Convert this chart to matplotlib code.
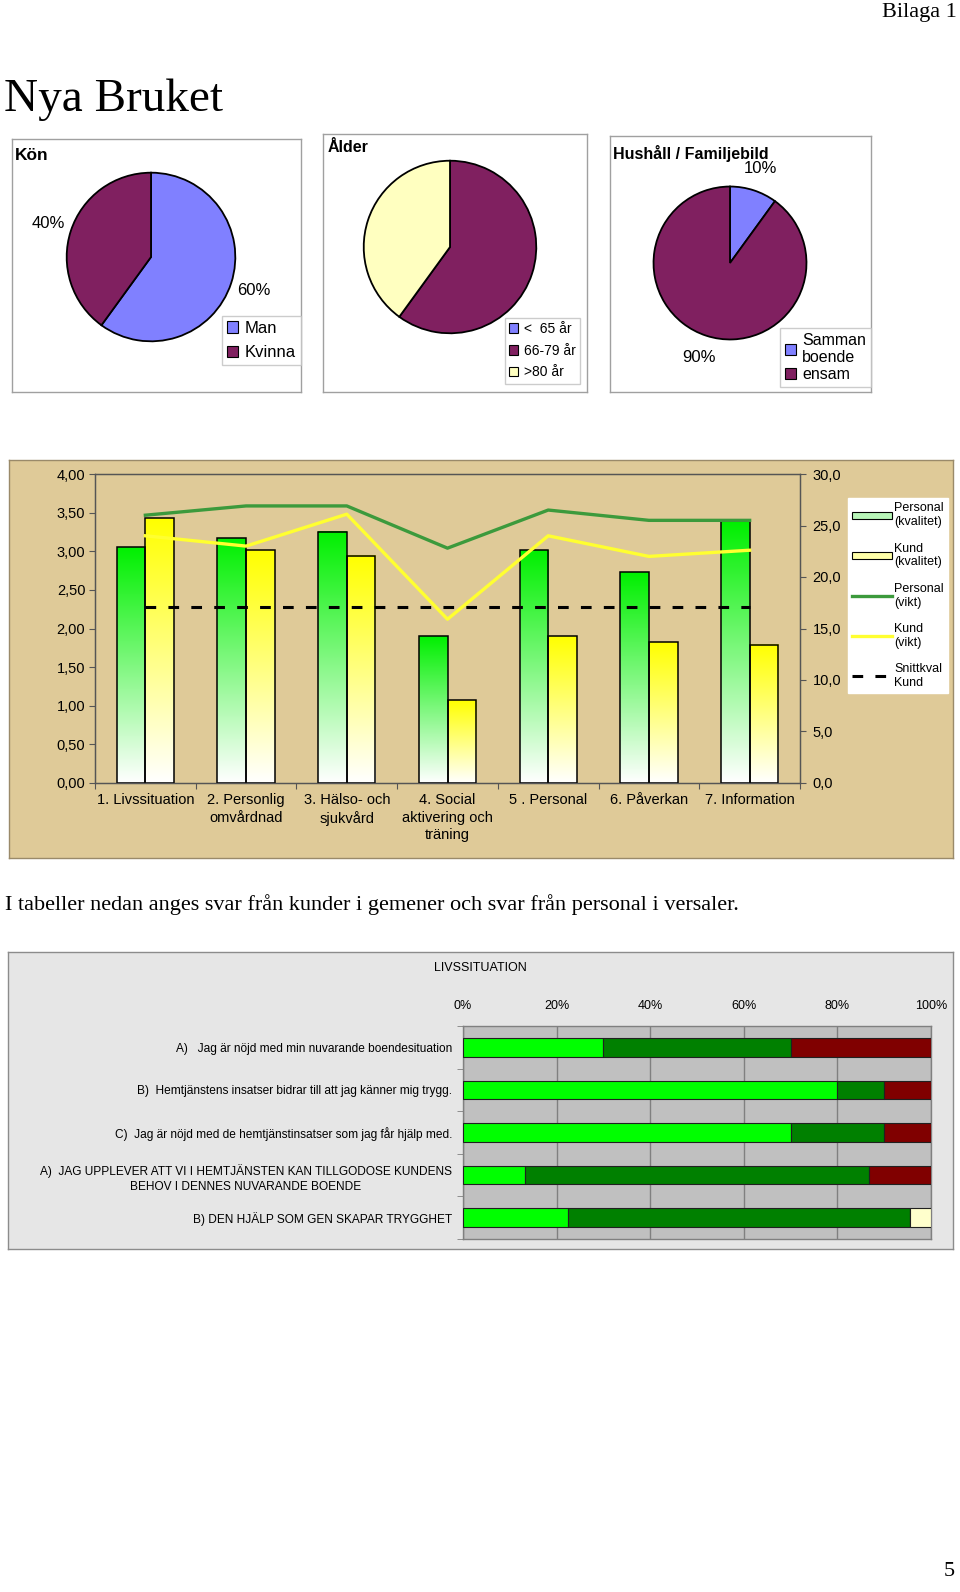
import numpy as np
import matplotlib
matplotlib.use("Agg")
import matplotlib.pyplot as plt
from matplotlib.patches import Patch
from matplotlib.lines import Line2D
from matplotlib.colors import LinearSegmentedColormap
from matplotlib.ticker import FixedLocator, FuncFormatter

plt.rcParams["font.family"] = ["Liberation Sans", "DejaVu Sans"]

# ---- data --------------------------------------------------------------
kon_labels = ["Man", "Kvinna"]
kon_values = [60, 40]

alder_labels = ["<  65 år", "66-79 år", ">80 år"]
alder_values = [0, 60, 40]

hushall_labels = ["Samman\nboende", "ensam"]
hushall_values = [10, 90]

omraden = ["1. Livssituation", "2. Personlig\nomvårdnad", "3. Hälso- och\nsjukvård",
           "4. Social\naktivering och\nträning", "5 . Personal", "6. Påverkan",
           "7. Information"]
personal_kvalitet = [3.05, 3.17, 3.25, 1.90, 3.01, 2.73, 3.39]
kund_kvalitet = [3.43, 3.01, 2.94, 1.07, 1.90, 1.82, 1.79]
personal_vikt = [26.0, 26.9, 26.9, 22.8, 26.5, 25.5, 25.5]
kund_vikt = [24.0, 23.0, 26.1, 15.9, 24.0, 22.0, 22.6]
snittkval_kund = float(np.mean(kund_kvalitet))

fragor = ["A)   Jag är nöjd med min nuvarande boendesituation",
          "B)  Hemtjänstens insatser bidrar till att jag känner mig trygg.",
          "C)  Jag är nöjd med de hemtjänstinsatser som jag får hjälp med.",
          "A)  JAG UPPLEVER ATT VI I HEMTJÄNSTEN KAN TILLGODOSE KUNDENS\nBEHOV I DENNES NUVARANDE BOENDE",
          "B) DEN HJÄLP SOM GEN SKAPAR TRYGGHET"]
svar_ljusgron = [30, 80, 70, 13.3, 22.5]
svar_morkgron = [40, 10, 20, 73.4, 73.0]
svar_rod = [30, 10, 10, 13.3, 0]
svar_gul = [0, 0, 0, 0, 4.5]

# ---- helpers -------------------------------------------------------------
W, H = 960, 1592
fig = plt.figure(figsize=(W / 100, H / 100), dpi=100)
fig.patch.set_facecolor("white")


def rect(x0, y0, x1, y1):
    return [x0 / W, 1 - y1 / H, (x1 - x0) / W, (y1 - y0) / H]


def ftext(x, y, s, **kw):
    return fig.text(x / W, 1 - y / H, s, **kw)


def panel(x0, y0, x1, y1, fc="white", ec="#a0a0a0"):
    a = fig.add_axes(rect(x0, y0, x1, y1))
    a.set_xticks([]); a.set_yticks([])
    a.set_facecolor(fc)
    for s in a.spines.values():
        s.set_color(ec); s.set_linewidth(1)
    return a


BLUE = "#8080FF"
PLUM = "#802060"
CREAM = "#FFFFC0"
SERIF = ["Liberation Serif", "DejaVu Serif"]

# ---- page text -----------------------------------------------------------
ftext(957, 13, "Bilaga 1", ha="right", va="center", fontsize=16, family=SERIF)
ftext(4, 100, "Nya Bruket", ha="left", va="center", fontsize=34, family=SERIF)
ftext(5, 905, "I tabeller nedan anges svar från kunder i gemener och svar från personal i versaler.",
      ha="left", va="center", fontsize=16, family=SERIF)
ftext(955, 1572, "5", ha="right", va="center", fontsize=16, family=SERIF)


# ---- pies ----------------------------------------------------------------
def pie_box(box, title, title_xy, tsize, center, r, values, colors, labels,
            leg_xy, leg_size, pct=None, spacing=0.55):
    panel(*box)
    ftext(title_xy[0], title_xy[1], title, ha="left", va="center",
          fontsize=tsize, weight="bold")
    cx, cy = center
    pa = fig.add_axes(rect(cx - r, cy - r, cx + r, cy + r))
    kw = {}
    if pct:
        kw = dict(autopct=lambda p: f"{p:.0f}%", pctdistance=pct,
                  textprops=dict(fontsize=12))
    pa.pie(values, colors=colors, startangle=90, counterclock=False,
           wedgeprops=dict(edgecolor="black", linewidth=1.3), **kw)
    pa.set_xlim(-1.02, 1.02); pa.set_ylim(-1.02, 1.02)
    pa.set_aspect("equal"); pa.axis("off")
    handles = [Patch(facecolor=c, edgecolor="black", linewidth=0.8) for c in colors]
    leg = pa.legend(handles, labels, loc="upper right",
                    bbox_to_anchor=(leg_xy[0] / W, 1 - leg_xy[1] / H),
                    bbox_transform=fig.transFigure, fontsize=leg_size,
                    frameon=True, fancybox=False, borderaxespad=0,
                    handlelength=0.7, handleheight=0.7, handletextpad=0.4,
                    labelspacing=spacing, borderpad=0.3)
    leg.get_frame().set_edgecolor("#c0c0c0")
    leg.get_frame().set_linewidth(1)


pie_box((12, 139, 301, 392), "Kön", (15, 155), 12.5, (151, 257), 86,
        kon_values, [BLUE, PLUM], kon_labels, (301, 316), 12, pct=1.28)
pie_box((323, 134, 587, 392), "Ålder", (328, 148), 11.5, (450, 247), 88,
        alder_values, [BLUE, PLUM, CREAM], alder_labels, (580, 318), 10)
pie_box((610, 136, 871, 392), "Hushåll / Familjebild", (613, 153), 11.5, (730, 263), 78,
        hushall_values, [BLUE, PLUM], hushall_labels, (871, 328), 11.5,
        pct=1.3, spacing=0.1)

# ---- bar chart -------------------------------------------------------------
panel(9, 460, 953, 858, fc="#DFCA98", ec="#9a8a6a")
ax = fig.add_axes(rect(95, 474, 800, 783))
ax.set_facecolor("none")
x = np.arange(len(omraden))
bw = 0.285
green_cm = LinearSegmentedColormap.from_list("g", ["white", "#00F000"])
yellow_cm = LinearSegmentedColormap.from_list("y", ["white", "#FFFF00"])
grad = np.linspace(0, 1, 256).reshape(-1, 1)
for vals, off, cm in [(personal_kvalitet, -bw / 2, green_cm), (kund_kvalitet, bw / 2, yellow_cm)]:
    bars = ax.bar(x + off, vals, width=bw, facecolor="none", edgecolor="black",
                  linewidth=1.1, zorder=3)
    for b in bars:
        x0, h = b.get_x(), b.get_height()
        ax.imshow(grad, extent=[x0, x0 + bw, 0, h], origin="lower", cmap=cm,
                  aspect="auto", zorder=2)
ax.plot([x[0], x[-1]], [snittkval_kund] * 2, color="black", lw=2.2,
        ls=(0, (3.5, 4)), zorder=4)
ax.set_xlim(-0.5, len(omraden) - 0.5)
ax.set_ylim(0, 4)
ax.set_yticks(np.arange(0, 4.01, 0.5))
ax.yaxis.set_major_formatter(FuncFormatter(lambda v, p: f"{v:.2f}".replace(".", ",")))
ax.xaxis.set_major_locator(FixedLocator(np.arange(-0.5, len(omraden), 1.0)))
ax.xaxis.set_minor_locator(FixedLocator(x))
ax.set_xticklabels([])
ax.set_xticklabels(omraden, minor=True, fontsize=10.5, linespacing=1.35)
ax.tick_params(axis="x", which="minor", length=0, pad=7)
ax.tick_params(axis="x", which="major", length=4, color="#555555", direction="out")
ax.tick_params(axis="y", length=4, labelsize=10.5, color="#555555", pad=3)
for s in ax.spines.values():
    s.set_color("#555555"); s.set_linewidth(0.9)

ax2 = ax.twinx()
ax2.plot(x, personal_vikt, color="#3C9A3C", lw=2.4, zorder=5)
ax2.plot(x, kund_vikt, color="#FFFF30", lw=2.4, zorder=5)
ax2.set_ylim(0, 30)
ax2.set_yticks(np.arange(0, 30.1, 5))
ax2.yaxis.set_major_formatter(FuncFormatter(lambda v, p: f"{v:.1f}".replace(".", ",")))
ax2.tick_params(axis="y", length=4, labelsize=10.5, color="#555555", pad=5)
for s in ax2.spines.values():
    s.set_color("#555555"); s.set_linewidth(0.9)

leg_handles = [Patch(facecolor="#B8F5B8", edgecolor="black", linewidth=0.8),
               Patch(facecolor="#FFFFA8", edgecolor="black", linewidth=0.8),
               Line2D([], [], color="#3C9A3C", lw=2.4),
               Line2D([], [], color="#FFFF30", lw=2.4),
               Line2D([], [], color="black", lw=2.2, ls=(0, (3.5, 4)))]
leg_labels = ["Personal\n(kvalitet)", "Kund\n(kvalitet)", "Personal\n(vikt)",
              "Kund\n(vikt)", "Snittkval\nKund"]
leg = ax2.legend(leg_handles, leg_labels, loc="upper left",
                 bbox_to_anchor=(848 / W, 1 - 498 / H), bbox_transform=fig.transFigure,
                 fontsize=9, frameon=True, fancybox=False, borderaxespad=0,
                 handlelength=3.2, handleheight=0.5, handletextpad=0.15,
                 labelspacing=1.15, borderpad=0.35)
for t in leg.get_texts():
    t.set_multialignment("left")
leg.get_frame().set_facecolor("white")
leg.get_frame().set_edgecolor("white")
leg.get_frame().set_alpha(1)

# ---- stacked horizontal bars -------------------------------------------------
panel(8, 952, 953, 1249, fc="#E6E6E6", ec="#8c8c8c")
ftext(480, 968, "LIVSSITUATION", ha="center", va="center", fontsize=9)
bx = fig.add_axes(rect(463, 1026, 931, 1239))
bx.set_facecolor("#C0C0C0")
rows = np.arange(len(fragor))
left = np.zeros(len(fragor))
for vals, col in [(svar_ljusgron, "#00FF00"), (svar_morkgron, "#008000"),
                  (svar_rod, "#800000"), (svar_gul, "#FFFFCC")]:
    vals = np.array(vals, dtype=float)
    bx.barh(rows, vals, left=left, height=0.44, color=col, edgecolor="#202020",
            linewidth=0.8, zorder=3)
    left += vals
bx.set_xlim(0, 100)
bx.set_ylim(len(fragor) - 0.5, -0.5)
bx.set_xticks(np.arange(0, 101, 20))
bx.set_xticklabels([f"{v}%" for v in range(0, 101, 20)], fontsize=9)
bx.xaxis.tick_top()
bx.tick_params(axis="x", length=0, pad=10)
bx.grid(axis="x", color="#808080", lw=1, zorder=1)
bx.set_axisbelow(True)
bx.set_yticks(rows)
bx.set_yticklabels(fragor, fontsize=8.6, multialignment="center", linespacing=1.35)
bx.yaxis.set_minor_locator(FixedLocator(np.arange(-0.5, len(fragor), 1.0)))
bx.tick_params(axis="y", which="major", length=0, pad=8)
bx.tick_params(axis="y", which="minor", length=4, color="#808080")
for s in bx.spines.values():
    s.set_color("#808080"); s.set_linewidth(1)

fig.savefig("out.png", dpi=100)
